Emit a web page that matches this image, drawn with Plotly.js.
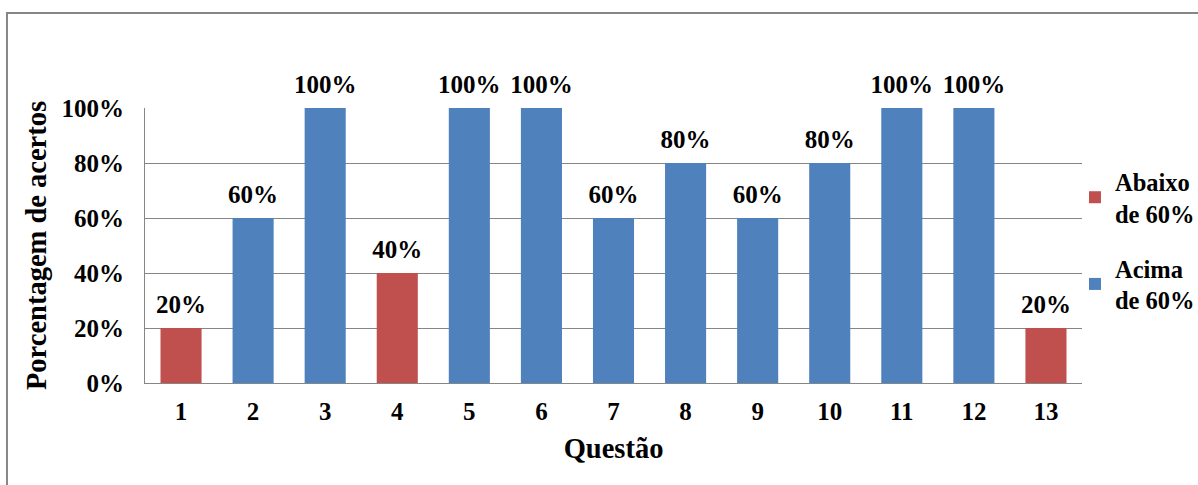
<!DOCTYPE html>
<html>
<head>
<meta charset="utf-8">
<script src="https://cdn.plot.ly/plotly-3.0.1.min.js"></script>
<style>html,body{margin:0;padding:0;background:#fff;}#chart{width:1198px;height:485px;}</style>
</head>
<body>
<div id="chart"></div>
<script>
const questions = ['1','2','3','4','5','6','7','8','9','10','11','12','13'];
const abaixo = [0.2, null, null, 0.4, null, null, null, null, null, null, null, null, 0.2];
const acima = [null, 0.6, 1.0, null, 1.0, 1.0, 0.6, 0.8, 0.6, 0.8, 1.0, 1.0, null];
const yTicks = [0, 0.2, 0.4, 0.6, 0.8, 1.0];
const yTickText = ['0%', '20%', '40%', '60%', '80%', '100%'];

const FONT = '"Liberation Serif", "Times New Roman", serif';
const lbl = v => v == null ? '' : Math.round(v * 100) + '%';

function barTrace(name, vals, color, group) {
  return {
    type: 'bar', name: name, x: questions, y: vals, legendgroup: group,
    marker: {color: color}, width: 0.57, hoverinfo: 'none'
  };
}
function labelTrace(vals) {
  return {
    type: 'scatter', mode: 'text+markers', x: questions, y: vals, showlegend: false,
    marker: {size: 13, opacity: 0},
    text: vals.map(lbl), textposition: 'top center', cliponaxis: false,
    textfont: {family: FONT, size: 25, color: '#000', weight: 'bold'},
    hoverinfo: 'none'
  };
}

const traces = [
  barTrace('Abaixo<br>de 60%', abaixo, '#C0504D', 'a'),
  barTrace('Acima<br>de 60%', acima, '#4F81BD', 'b'),
  labelTrace(abaixo),
  labelTrace(acima)
];

const layout = {
  width: 1198, height: 485,
  margin: {l: 145, r: 116, t: 108, b: 102, autoexpand: false},
  paper_bgcolor: '#fff', plot_bgcolor: '#fff',
  barmode: 'overlay',
  font: {family: FONT, size: 25, color: '#000', weight: 'bold'},
  xaxis: {
    type: 'category', range: [-0.5, questions.length - 0.5], autorange: false,
    showgrid: false, showline: true, linecolor: '#868686', linewidth: 1,
    ticks: '', ticklabelstandoff: 6, tickfont: {family: FONT, size: 25, weight: 'bold'},
    title: {text: 'Questão', font: {family: FONT, size: 28.5, weight: 'bold'}, standoff: 14}
  },
  yaxis: {
    range: [0, 1], autorange: false, tickvals: yTicks, ticktext: yTickText,
    showgrid: true, gridcolor: '#868686', gridwidth: 1,
    showline: true, linecolor: '#868686', linewidth: 1, zeroline: false,
    ticks: '', ticklen: 0, ticklabelstandoff: 15, tickfont: {family: FONT, size: 25, weight: 'bold'},
    title: {text: 'Porcentagem de acertos', font: {family: FONT, size: 28.5, weight: 'bold'}, standoff: 6}
  },
  legend: {
    x: 0.9925, xanchor: 'left', y: 0.815, yanchor: 'top',
    font: {family: FONT, size: 24.5, weight: 'bold'},
    tracegroupgap: 20, itemwidth: 30, bgcolor: 'rgba(0,0,0,0)'
  },
  showlegend: true,
  shapes: [{
    type: 'rect', xref: 'paper', yref: 'paper',
    x0: -0.1473, x1: 1.3, y0: -0.5, y1: 1.3455,
    line: {color: '#868686', width: 2}
  }]
};

Plotly.newPlot('chart', traces, layout, {displayModeBar: false, staticPlot: true});
</script>
</body>
</html>
